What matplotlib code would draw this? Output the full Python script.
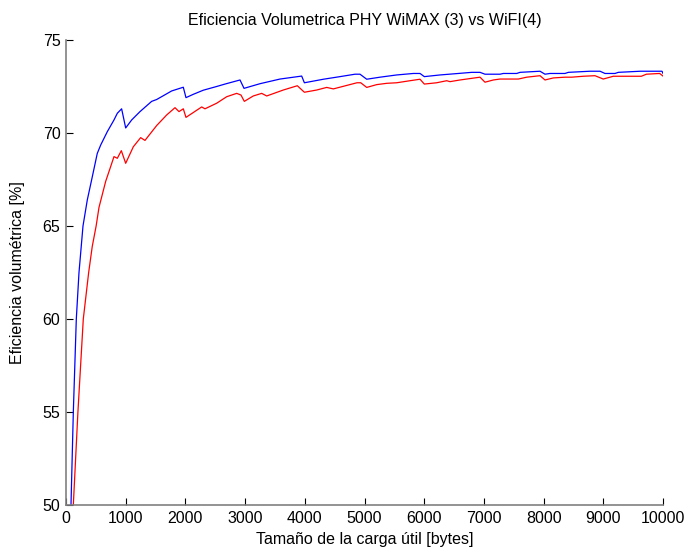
import numpy as np
import matplotlib.pyplot as plt

plt.rcParams['font.family'] = ['Liberation Sans', 'DejaVu Sans']

# WiMAX (3) - azul
x_wimax = [70, 84, 123, 173, 218, 285, 357, 441, 524, 581, 692, 804, 860, 932, 1000,
           1100, 1240, 1435, 1519, 1770, 1965, 2010, 2133, 2300, 2524, 2663, 2915, 2982,
           3250, 3585, 3948, 3993, 4312, 4590, 4841, 4925, 5037, 5260, 5540, 5819, 5930,
           6002, 6265, 6572, 6796, 6935, 7018, 7270, 7325, 7550, 7605, 7940, 8023, 8107,
           8358, 8414, 8777, 8945, 9028, 9196, 9251, 9620, 9983, 10000]
y_wimax = [48.0, 50.0, 55.0, 60.0, 62.5, 65.0, 66.4, 67.65, 68.9, 69.35, 70.07, 70.7, 71.06, 71.3, 70.27,
           70.7, 71.15, 71.7, 71.8, 72.26, 72.46, 71.9, 72.08, 72.3, 72.5, 72.63, 72.85, 72.4,
           72.65, 72.9, 73.06, 72.7, 72.89, 73.03, 73.16, 73.16, 72.89, 73.0, 73.12, 73.2, 73.2,
           73.03, 73.12, 73.2, 73.26, 73.26, 73.16, 73.16, 73.2, 73.2, 73.26, 73.32, 73.16, 73.2,
           73.2, 73.26, 73.32, 73.32, 73.2, 73.2, 73.26, 73.32, 73.32, 73.2]

# WiFi (4) - rojo
x_wifi = [110, 123, 200, 290, 380, 440, 505, 553, 665, 749, 804, 860, 927, 1000, 1128, 1251, 1323,
          1519, 1687, 1826, 1893, 1965, 2010, 2273, 2328, 2524, 2692, 2859, 2931, 2987,
          3137, 3278, 3362, 3640, 3875, 3993, 4200, 4367, 4478, 4874, 4937, 5037, 5204,
          5372, 5540, 5762, 5930, 6002, 6209, 6377, 6432, 6600, 6935, 7018, 7158, 7270,
          7577, 7717, 7940, 8023, 8163, 8358, 8470, 8665, 8860, 8999, 9167, 9637, 9721,
          9944, 10000]
y_wifi = [48.0, 50.0, 55.0, 60.0, 62.5, 63.9, 65.0, 66.0, 67.4, 68.2, 68.73, 68.64, 69.05, 68.37, 69.26, 69.75, 69.6,
          70.4, 70.97, 71.36, 71.15, 71.3, 70.84, 71.4, 71.3, 71.6, 71.95, 72.13, 72.04, 71.7,
          71.99, 72.13, 71.99, 72.31, 72.54, 72.19, 72.31, 72.45, 72.37, 72.7, 72.7, 72.45, 72.6,
          72.67, 72.7, 72.81, 72.89, 72.63, 72.7, 72.81, 72.76, 72.85, 73.0, 72.73, 72.85, 72.9,
          72.9, 73.0, 73.08, 72.85, 72.96, 73.0, 73.0, 73.05, 73.08, 72.9, 73.05, 73.05, 73.16,
          73.2, 73.06]

xticks = np.arange(0, 10001, 1000)
yticks = [50, 55, 60, 65, 70, 75]

fig = plt.figure(figsize=(6.88, 5.53), dpi=100)
ax = fig.add_axes([0.0959, 0.0868, 0.8678, 0.8409])

ax.plot(x_wimax, y_wimax, color='#0000ff', linewidth=0.9)
ax.plot(x_wifi, y_wifi, color='#ff0000', linewidth=0.9)

ax.set_xlim(0, 10000)
ax.set_ylim(50, 75)
ax.set_xticks(xticks)
ax.set_yticks(yticks)

for s in ['top', 'right']:
    ax.spines[s].set_visible(False)
for s in ['left', 'bottom']:
    ax.spines[s].set_color('#808080')
    ax.spines[s].set_linewidth(1.2)

ax.tick_params(direction='in', length=5, width=0.8, labelsize=11.5, colors='black', pad=4)

ax.set_title('Eficiencia Volumetrica PHY WiMAX (3) vs WiFI(4)', fontsize=11.5, pad=11)
ax.set_xlabel('Tamaño de la carga útil [bytes]', fontsize=11.5, labelpad=5)
ax.set_ylabel('Eficiencia volumétrica [%]', fontsize=11.5, labelpad=13)

fig.savefig('out.png', dpi=100)
